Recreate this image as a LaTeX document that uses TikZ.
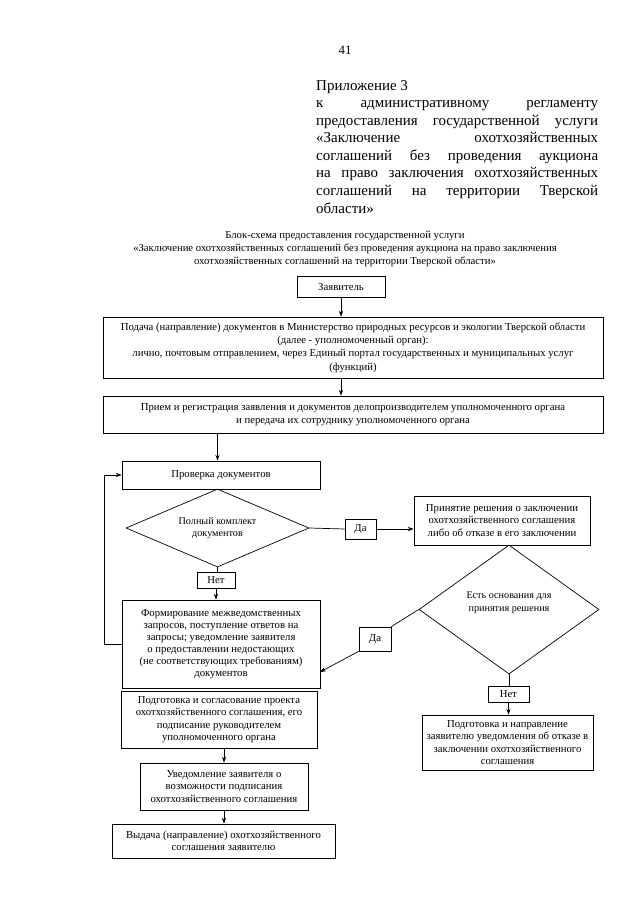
\documentclass[tikz,border=0pt]{standalone}
\usepackage{fontspec}
\setmainfont{Liberation Serif}
\usetikzlibrary{shapes.geometric,arrows.meta}
\def\pxu{0.3281mm}
\newcommand\fullline[1]{\makebox[92.5mm][s]{#1}}

\begin{document}
\begin{tikzpicture}[x=\pxu,y=-\pxu,
  box/.style={draw,line width=0.65pt,inner sep=1pt,align=center,font=\fontsize{10}{11.5}\selectfont},
  dia/.style={draw,diamond,line width=0.65pt,inner sep=0pt,align=center,font=\fontsize{9.5}{11.5}\selectfont},
  sz/.style 2 args={minimum width=#1*\pxu,minimum height=#2*\pxu},
  arr/.style={-{Stealth[length=5.5pt,width=4pt]},line width=0.65pt},
  ln/.style={line width=0.65pt}]
  \useasboundingbox (0,0) rectangle (640,905);

  \node[font=\fontsize{12}{14}\selectfont] (page) at (345,50) {41};
  \node[anchor=north west,inner sep=0pt,align=left,font=\fontsize{14}{16.4}\selectfont] (app) at (316,80)
    {Приложение 3\\
     \fullline{к административному регламенту}\\
     \fullline{предоставления государственной услуги}\\
     \fullline{«Заключение охотхозяйственных}\\
     \fullline{соглашений без проведения аукциона}\\
     \fullline{на право заключения охотхозяйственных}\\
     \fullline{соглашений на территории Тверской}\\
     области»};
  \node[align=center,inner sep=0pt,font=\fontsize{10}{12.2}\selectfont] (title) at (345,249)
    {Блок-схема предоставления государственной услуги\\
     «Заключение охотхозяйственных соглашений без проведения аукциона на право заключения\\
     охотхозяйственных соглашений на территории Тверской области»};

  \node[box,sz={88}{21}] (zayav) at (341,286.5) {Заявитель};
  \node[box,sz={500}{61},font=\fontsize{10}{12.5}\selectfont] (podacha) at (353,347.5)
    {Подача (направление) документов в Министерство природных ресурсов и экологии Тверской области\\
     (далее - уполномоченный орган):\\
     лично, почтовым отправлением, через Единый портал государственных и муниципальных услуг\\
     (функций)};
  \node[box,sz={500}{37},font=\fontsize{10}{12.5}\selectfont] (priem) at (353,414.5)
    {Прием и регистрация заявления и документов делопроизводителем уполномоченного органа\\
     и передача их сотруднику уполномоченного органа};
  \node[box,sz={198}{28}] (proverka) at (221,475) {Проверка документов};
  \node[dia,aspect=2.35,sz={183}{78}] (d1) at (217.5,528) {Полный комплект\\документов};
  \node[box,sz={31}{20}] (da1) at (360.5,529) {Да};
  \node[box,sz={176}{49}] (prin) at (502,520.5)
    {Принятие решения о заключении\\охотхозяйственного соглашения\\либо об отказе в его заключении};
  \node[dia,aspect=1.4,sz={180}{129}] (d2) at (509,609.5) {Есть основания для\\принятия решения\\[3pt]};
  \node[box,sz={38}{16}] (net1) at (216,580) {Нет};
  \node[box,sz={198}{88},font=\fontsize{10}{11.3}\selectfont] (formir) at (221,644)
    {Формирование межведомственных\\запросов, поступление ответов на\\запросы; уведомление заявителя\\
     о предоставлении недостающих\\(не соответствующих требованиям)\\документов};
  \node[box,sz={32}{24}] (da2) at (375,639) {Да};
  \coordinate (formirin) at (320,672);
  \node[box,sz={41}{16}] (net2) at (508.5,694) {Нет};
  \node[box,sz={171}{55}] (otkaz) at (507.5,742.5)
    {Подготовка и направление\\заявителю уведомления об отказе в\\заключении охотхозяйственного\\соглашения};
  \node[box,sz={196}{57}] (podgot) at (219,719.5)
    {Подготовка и согласование проекта\\охотхозяйственного соглашения, его\\подписание руководителем\\уполномоченного органа};
  \node[box,sz={168}{47}] (uvedom) at (224,786.5)
    {Уведомление заявителя о\\возможности подписания\\охотхозяйственного соглашения};
  \node[box,sz={223}{34}] (vydacha) at (223.5,841)
    {Выдача (направление) охотхозяйственного\\соглашения заявителю};

  \draw[arr] (zayav.south) -- (zayav.south |- podacha.north);
  \draw[arr] (zayav.south |- podacha.south) -- (zayav.south |- priem.north);
  \draw[arr] (d1.north |- priem.south) -- (d1.north |- proverka.north);
  \draw[ln] (d1.east) -- (da1.west);
  \draw[arr] (da1.east) -- (da1.east -| prin.west);
  \draw[ln] (d1.south) -- (d1.south |- net1.north);
  \draw[arr] (net1.south) -- (net1.south |- formir.north);
  \draw[arr] (formir.west) -- ++(-17,0) |- (proverka.west);
  \draw[ln] (d2.west) -- (da2.north east);
  \draw[arr] (da2.south west) -- (formirin);
  \draw[ln] (d2.south) -- (d2.south |- net2.north);
  \draw[arr] (net2.south) -- (net2.south |- otkaz.north);
  \draw[arr] (uvedom.north |- podgot.south) -- (uvedom.north);
  \draw[arr] (uvedom.south) -- (uvedom.south |- vydacha.north);
\end{tikzpicture}
\end{document}
